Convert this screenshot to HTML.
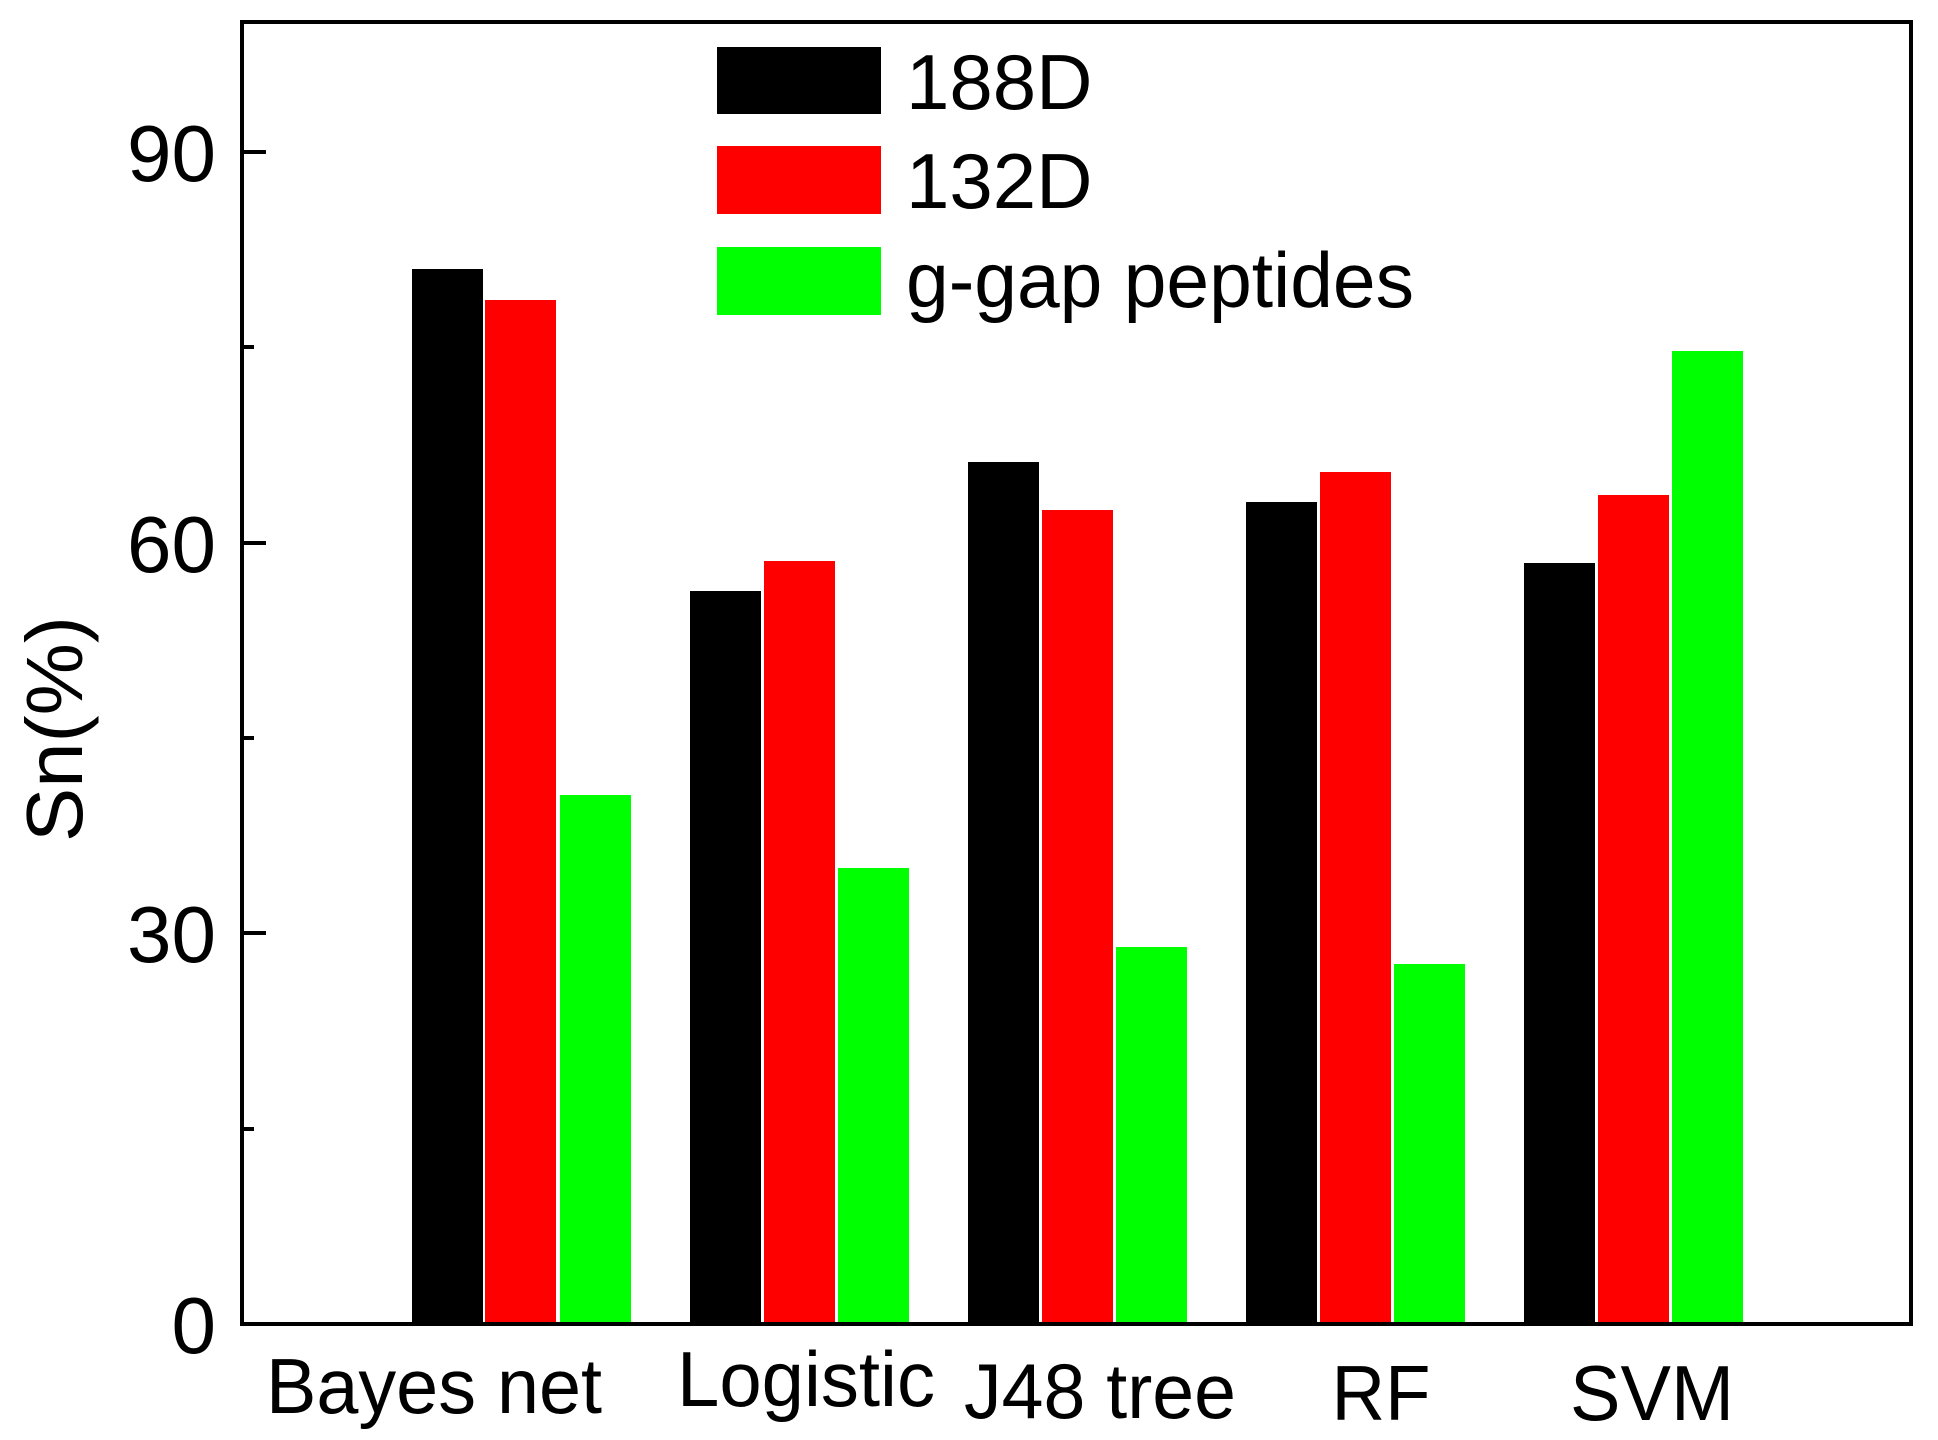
<!DOCTYPE html>
<html><head><meta charset="utf-8"><style>html,body{margin:0;padding:0;background:#fff}svg{display:block}</style></head>
<body>
<svg width="1938" height="1440" viewBox="0 0 1938 1440" xmlns="http://www.w3.org/2000/svg" font-family="Liberation Sans, Arial, sans-serif">
<rect width="1938" height="1440" fill="#fff"/>
<g stroke="#fff" stroke-width="2">
<!-- Bayes -->
<rect x="411" y="268" width="73" height="1056" fill="#000"/>
<rect x="484" y="299" width="73" height="1025" fill="#f00"/>
<rect x="559" y="794" width="73" height="530" fill="#0f0"/>
<!-- Logistic -->
<rect x="689" y="590" width="73" height="734" fill="#000"/>
<rect x="763" y="560" width="73" height="764" fill="#f00"/>
<rect x="837" y="867" width="73" height="457" fill="#0f0"/>
<!-- J48 -->
<rect x="967" y="461" width="73" height="863" fill="#000"/>
<rect x="1041" y="509" width="73" height="815" fill="#f00"/>
<rect x="1115" y="946" width="73" height="378" fill="#0f0"/>
<!-- RF -->
<rect x="1245" y="501" width="73" height="823" fill="#000"/>
<rect x="1319" y="471" width="73" height="853" fill="#f00"/>
<rect x="1393" y="963" width="73" height="361" fill="#0f0"/>
<!-- SVM -->
<rect x="1523" y="562" width="73" height="762" fill="#000"/>
<rect x="1597" y="494" width="73" height="830" fill="#f00"/>
<rect x="1671" y="350" width="73" height="974" fill="#0f0"/>
</g>
<rect x="242" y="22" width="1669" height="1302" fill="none" stroke="#000" stroke-width="4"/>
<g stroke="#000" stroke-width="4">
<line x1="242" y1="152" x2="266" y2="152"/>
<line x1="242" y1="543" x2="266" y2="543"/>
<line x1="242" y1="933" x2="266" y2="933"/>
<line x1="242" y1="347" x2="254" y2="347"/>
<line x1="242" y1="738" x2="254" y2="738"/>
<line x1="242" y1="1129" x2="254" y2="1129"/>
</g>
<g font-size="80" text-anchor="end" fill="#000">
<text x="216" y="181">90</text>
<text x="216" y="572">60</text>
<text x="216" y="962">30</text>
<text x="216" y="1353">0</text>
</g>
<g font-size="78" text-anchor="middle" fill="#000">
<text x="434" y="1413" textLength="336" lengthAdjust="spacingAndGlyphs">Bayes net</text>
<text x="806" y="1406" textLength="258" lengthAdjust="spacingAndGlyphs">Logistic</text>
<text x="1100" y="1418" textLength="272" lengthAdjust="spacingAndGlyphs">J48 tree</text>
<text x="1381" y="1420" textLength="99" lengthAdjust="spacingAndGlyphs">RF</text>
<text x="1652" y="1420" textLength="164" lengthAdjust="spacingAndGlyphs">SVM</text>
</g>
<text transform="translate(82,729) rotate(-90)" font-size="80" text-anchor="middle" textLength="226" lengthAdjust="spacingAndGlyphs">Sn(%)</text>
<rect x="717" y="47" width="164" height="67" fill="#000"/>
<rect x="717" y="146" width="164" height="68" fill="#f00"/>
<rect x="717" y="247" width="164" height="68" fill="#0f0"/>
<g font-size="78" fill="#000">
<text x="906" y="109">188D</text>
<text x="906" y="208">132D</text>
<text x="906" y="307" textLength="508" lengthAdjust="spacingAndGlyphs">g-gap peptides</text>
</g>
</svg>
</body></html>
